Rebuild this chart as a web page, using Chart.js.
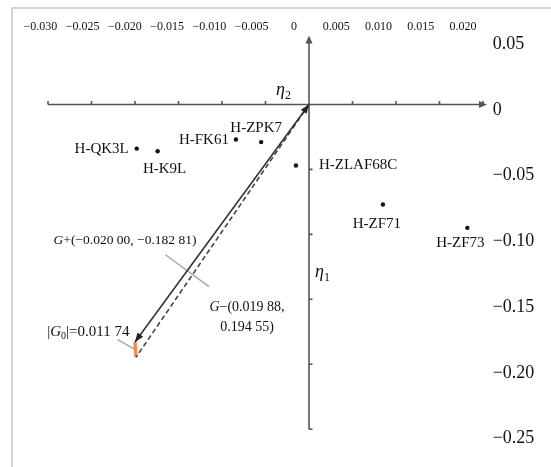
<!DOCTYPE html>
<html>
<head>
<meta charset="utf-8">
<script src="https://cdn.jsdelivr.net/npm/chart.js@4"></script>
<style>
  body { margin: 0; background: #fff; }
</style>
</head>
<body>
<canvas id="vecChart" width="551" height="467"></canvas>
<script>
// data
const pointNames = ["H-QK3L", "H-K9L", "H-FK61", "H-ZPK7", "H-ZLAF68C", "H-ZF71", "H-ZF73"];
const eta2Values = [-0.0198, -0.0174, -0.0084, -0.0055, -0.0015, 0.0085, 0.0182];
const eta1Values = [-0.034, -0.036, -0.027, -0.029, -0.047, -0.077, -0.095];
const gPlus = [-0.02000, -0.18281];
const gMinus = [-0.01988, -0.19455];
const xTickValues = [-0.030, -0.025, -0.020, -0.015, -0.010, -0.005, 0, 0.005, 0.010, 0.015, 0.020];
const xTickLabels = ["\u22120.030", "\u22120.025", "\u22120.020", "\u22120.015", "\u22120.010", "\u22120.005", "0", "0.005", "0.010", "0.015", "0.020"];
const yTickValues = [0.05, 0, -0.05, -0.10, -0.15, -0.20, -0.25];
const yTickLabels = ["0.05", "0", "\u22120.05", "\u22120.10", "\u22120.15", "\u22120.20", "\u22120.25"];

const SERIF = "'Liberation Serif', 'Times New Roman', serif";

// label placement (pixels, relative to each dot)
const labelPlace = {
    "H-QK3L": { dx: -8, dy: 0, align: "right" },
    "H-K9L": { dx: 7, dy: 18, align: "center" },
    "H-FK61": { dx: -7, dy: 1, align: "right" },
    "H-ZPK7": { dx: -5, dy: -14, align: "center" },
    "H-ZLAF68C": { dx: 23, dy: 0, align: "left" },
    "H-ZF71": { dx: -6, dy: 20, align: "center" },
    "H-ZF73": { dx: -7, dy: 15, align: "center" }
};

// draws text made of parts (italic / subscript), baseline at y
function drawRich(ctx, parts, x, y, align, size) {
    const fontOf = p => (p.italic ? "italic " : "") + (p.sub ? Math.round(size * 0.65) : size) + "px " + SERIF;
    let total = 0;
    parts.forEach(p => { ctx.font = fontOf(p); total += ctx.measureText(p.t).width; });
    let cx = align === "right" ? x - total : align === "center" ? x - total / 2 : x;
    ctx.textAlign = "left";
    ctx.textBaseline = "alphabetic";
    parts.forEach(p => {
        ctx.font = fontOf(p);
        ctx.fillText(p.t, cx, p.sub ? y + size * 0.22 : y);
        cx += ctx.measureText(p.t).width;
    });
}

function arrowHead(ctx, x, y, ang, len, half) {
    ctx.save();
    ctx.translate(x, y);
    ctx.rotate(ang);
    ctx.beginPath();
    ctx.moveTo(0, 0);
    ctx.lineTo(-len, -half);
    ctx.lineTo(-len, half);
    ctx.closePath();
    ctx.fill();
    ctx.restore();
}

// the grey leader line that crosses both vectors
function crossLine(chart) {
    const px = v => chart.scales.x.getPixelForValue(v);
    const py = v => chart.scales.y.getPixelForValue(v);
    const x0 = px(0), y0 = py(0);
    const gx = px(gPlus[0]), gy = py(gPlus[1]);
    const len = Math.hypot(gx - x0, gy - y0);
    const ux = (gx - x0) / len, uy = (gy - y0) / len;
    const cx = x0 + ux * len * 0.7, cy = y0 + uy * len * 0.7;
    return {
        upper: [cx - uy * 27, cy + ux * 27],
        lower: [cx + uy * 27, cy - ux * 27]
    };
}

const decorations = {
    id: "decorations",
    beforeDraw(chart) {
        const ctx = chart.ctx;
        ctx.save();
        ctx.strokeStyle = "#d4d4d4";
        ctx.lineWidth = 2;
        ctx.strokeRect(12, 8, 560, 470);
        ctx.restore();
    },
    beforeDatasetsDraw(chart) {
        const ctx = chart.ctx;
        const px = v => chart.scales.x.getPixelForValue(v);
        const py = v => chart.scales.y.getPixelForValue(v);
        const x0 = px(0), y0 = py(0);
        ctx.save();
        ctx.strokeStyle = "#555";
        ctx.fillStyle = "#555";
        ctx.lineWidth = 1.6;
        // horizontal axis (eta2)
        const xEnd = px(xTickValues[xTickValues.length - 1]);
        ctx.beginPath();
        ctx.moveTo(px(xTickValues[0]), y0);
        ctx.lineTo(xEnd, y0);
        xTickValues.forEach(v => {
            if (v !== 0) { ctx.moveTo(px(v), y0); ctx.lineTo(px(v), y0 - 3.5); }
        });
        ctx.stroke();
        arrowHead(ctx, xEnd + 4, y0, 0, 8, 3.5);
        // vertical axis (eta1)
        const yTop = py(yTickValues[0]);
        const yBot = py(yTickValues[yTickValues.length - 1]);
        ctx.beginPath();
        ctx.moveTo(x0, yBot);
        ctx.lineTo(x0, yTop);
        yTickValues.forEach((v, i) => {
            if (i > 1) { ctx.moveTo(x0, py(v)); ctx.lineTo(x0 + 3.5, py(v)); }
        });
        ctx.stroke();
        arrowHead(ctx, x0, yTop - 4, -Math.PI / 2, 8, 3.5);

        // grey leader lines
        const cl = crossLine(chart);
        ctx.strokeStyle = "#a8a8a8";
        ctx.lineWidth = 1.5;
        ctx.beginPath();
        ctx.moveTo(cl.upper[0], cl.upper[1]);
        ctx.lineTo(cl.lower[0], cl.lower[1]);
        const mx = (px(gPlus[0]) + px(gMinus[0])) / 2, my = (py(gPlus[1]) + py(gMinus[1])) / 2;
        ctx.moveTo(mx, my);
        ctx.lineTo(mx - 18, my - 10);
        ctx.stroke();
        ctx.restore();
    },
    afterDatasetsDraw(chart) {
        const ctx = chart.ctx;
        const px = v => chart.scales.x.getPixelForValue(v);
        const py = v => chart.scales.y.getPixelForValue(v);
        const x0 = px(0), y0 = py(0);
        const gx = px(gPlus[0]), gy = py(gPlus[1]);
        const ang = Math.atan2(gy - y0, gx - x0);
        ctx.save();
        ctx.fillStyle = "#222";
        arrowHead(ctx, gx, gy, ang, 9, 3.5);
        arrowHead(ctx, x0, y0, ang + Math.PI, 9, 3.5);

        // point labels
        ctx.fillStyle = "#111";
        ctx.font = "15px " + SERIF;
        ctx.textBaseline = "middle";
        pointNames.forEach((n, i) => {
            const p = labelPlace[n];
            ctx.textAlign = p.align;
            ctx.fillText(n, px(eta2Values[i]) + p.dx, py(eta1Values[i]) + p.dy);
        });

        // axis names
        drawRich(ctx, [{ t: "\u03b7", italic: true }, { t: "2", sub: true }], x0 - 33, y0 - 9, "left", 18);
        drawRich(ctx, [{ t: "\u03b7", italic: true }, { t: "1", sub: true }], x0 + 6, py(-0.125) + 10, "left", 18);

        // vector notes
        const cl = crossLine(chart);
        const fmt = v => v.toFixed(5).replace("-", "\u2212").replace(/(\d{3})(\d{2})$/, "$1 $2");
        drawRich(ctx, [{ t: "G", italic: true }, { t: "+(" + fmt(gPlus[0]) + ", " + fmt(gPlus[1]) + ")" }],
            cl.upper[0] + 31, cl.upper[1] - 11, "right", 13.5);
        drawRich(ctx, [{ t: "G", italic: true }, { t: "\u2212(" + fmt(-gMinus[0]) + "," }],
            cl.lower[0] + 38, cl.lower[1] + 24, "center", 14);
        drawRich(ctx, [{ t: fmt(-gMinus[1]) + ")" }], cl.lower[0] + 38, cl.lower[1] + 44, "center", 14);
        const mx = (px(gPlus[0]) + px(gMinus[0])) / 2, my = (py(gPlus[1]) + py(gMinus[1])) / 2;
        const g0 = Math.hypot(gPlus[0] - gMinus[0], gPlus[1] - gMinus[1]);
        drawRich(ctx, [{ t: "|" }, { t: "G", italic: true }, { t: "0", sub: true },
            { t: "|=" + fmt(g0) }], mx - 6, my - 14, "right", 15);
        ctx.restore();
    }
};

const ctx = document.getElementById("vecChart");

const vecChart = new Chart(ctx, {
    type: "scatter",
    data: {
        datasets: [
            {
                label: "samples",
                data: pointNames.map((n, i) => ({ x: eta2Values[i], y: eta1Values[i] })),
                pointRadius: 2.2,
                backgroundColor: "#111",
                borderWidth: 0
            },
            {
                label: "G+",
                data: [{ x: 0, y: 0 }, { x: gPlus[0], y: gPlus[1] }],
                showLine: true,
                borderColor: "#333",
                borderWidth: 1.6,
                pointRadius: 0
            },
            {
                label: "G-",
                data: [{ x: 0, y: 0 }, { x: gMinus[0], y: gMinus[1] }],
                showLine: true,
                borderColor: "#444",
                borderWidth: 1.6,
                borderDash: [5, 3],
                pointRadius: 0
            },
            {
                label: "G0",
                data: [{ x: gPlus[0], y: gPlus[1] }, { x: gMinus[0], y: gMinus[1] }],
                showLine: true,
                borderColor: "rgba(232, 125, 55, 0.85)",
                borderWidth: 3.5,
                pointRadius: 0
            }
        ]
    },
    options: {
        responsive: false,
        animation: false,
        layout: { padding: { left: 30.6, right: 0, top: 0, bottom: 8.3 } },
        plugins: {
            legend: { display: false },
            tooltip: { enabled: false }
        },
        scales: {
            x: { type: "linear", display: false, min: -0.032, max: 0.021 },
            y: { type: "linear", display: false, min: -0.27, max: 0.055 },
            xTop: {
                type: "linear",
                position: "top",
                min: -0.03117,
                max: 0.0234,
                grid: { display: false, drawTicks: false },
                border: { display: false },
                afterFit(scale) { scale.height = 33; },
                afterBuildTicks(scale) { scale.ticks = xTickValues.map(v => ({ value: v })); },
                ticks: {
                    autoSkip: false,
                    maxRotation: 0,
                    padding: -1,
                    color: "#111",
                    font: { family: SERIF, size: 12 },
                    callback: (v, i) => xTickLabels[i]
                }
            },
            yRight: {
                type: "linear",
                position: "right",
                min: -0.26259,
                max: 0.05845,
                grid: { display: false, drawTicks: false },
                border: { display: false },
                afterFit(scale) { scale.width = 59.3; },
                afterBuildTicks(scale) { scale.ticks = yTickValues.map(v => ({ value: v })); },
                ticks: {
                    autoSkip: false,
                    padding: 1,
                    color: "#111",
                    font: { family: SERIF, size: 18 },
                    callback: (v, i) => yTickLabels[i]
                }
            }
        }
    },
    plugins: [decorations]
});
</script>
</body>
</html>
